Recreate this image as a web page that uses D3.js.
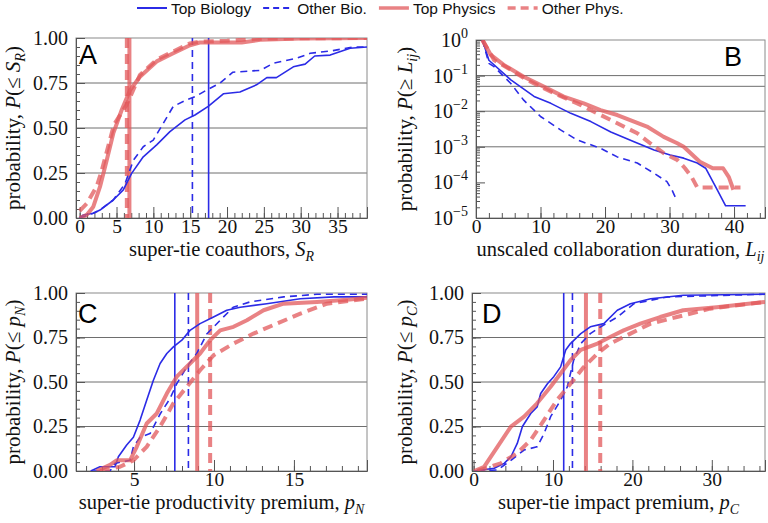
<!DOCTYPE html>
<html>
<head>
<meta charset="utf-8">
<script src="https://cdn.jsdelivr.net/npm/d3@7"></script>
<style>
  body { margin: 0; background: #fff; }
</style>
</head>
<body>
<svg id="chart" width="768" height="523"></svg>
<script>
// series order used everywhere below
const seriesNames = ["Top Biology", "Other Bio.", "Top Physics", "Other Phys."];

// Panel A: CDF of super-tie coauthors S_R
const aTopBio = [[0,0],[0.5,0.017],[1.85,0.026],[2.76,0.044],[4.56,0.1],[5.92,0.156],[7.05,0.248],[8.63,0.34],[10.45,0.406],[12.25,0.48],[14.3,0.545],[15.65,0.572],[17.45,0.62],[19.5,0.69],[21.75,0.7],[24,0.74],[25.4,0.78],[26.7,0.78],[29,0.84],[30.6,0.855],[31.9,0.9],[34,0.905],[36.7,0.943],[39,0.95]];
const aOtherBio = [[0,0],[1.85,0.026],[2.76,0.045],[4.56,0.1],[6.15,0.19],[7.28,0.32],[8.63,0.396],[9.99,0.433],[11.35,0.526],[12.7,0.62],[14.5,0.656],[15.65,0.674],[17.2,0.71],[19,0.748],[20.8,0.81],[24.5,0.82],[26.3,0.86],[29.4,0.887],[31.3,0.915],[34.4,0.93],[37.1,0.95],[39,0.95]];
const aTopPhys = [[0,0],[0.95,0.017],[1.85,0.063],[2.76,0.174],[3.66,0.32],[4.56,0.47],[5.7,0.6],[6.83,0.71],[8.18,0.785],[10.45,0.87],[12.7,0.915],[14.97,0.96],[16.3,0.975],[22,0.975],[24.5,0.99],[30,0.997],[39,1]];
const aOtherPhys = [[0,0.04],[0.95,0.08],[2.3,0.174],[2.9,0.25],[4.67,0.52],[6.38,0.63],[8.18,0.795],[10.45,0.88],[12.7,0.925],[14.97,0.97],[16.3,0.98],[20,0.985],[25,0.997],[39,1]];
const aMedians = [17.5, 15.3, 6.75, 6.4];

// Panel B: complementary CDF of collaboration duration L_ij (log y)
const bTopBio = [[1,1],[2,0.27],[5.4,0.076],[9,0.026],[11.6,0.0166],[14.7,0.0087],[17.8,0.0051],[20.9,0.0026],[24.5,0.00138],[27.6,0.00081],[30.1,0.00059],[32.2,0.00048],[34.3,0.00035],[35.6,0.00025],[37.4,0.000062],[38.7,0.000022],[41.8,0.000022]];
const bOtherBio = [[1,1],[2,0.22],[2.8,0.178],[5.4,0.06],[7.4,0.0204],[10,0.0071],[13.1,0.003],[15.7,0.00155],[19.3,0.00091],[21.9,0.00052],[25,0.00035],[27.6,0.00018],[29.6,0.000105],[30.4,0.00006],[31.1,0.000032]];
const bTopPhys = [[1,1],[2.3,0.38],[4.3,0.2],[7.4,0.093],[10.5,0.049],[13.6,0.0257],[16.7,0.0166],[19.3,0.0107],[21.9,0.0078],[24.5,0.0051],[26.5,0.0037],[29.1,0.0019],[31.2,0.00126],[32.2,0.001],[34.7,0.00038],[36.7,0.00025],[38.3,0.00025],[39.2,0.00014],[39.9,0.000062]];
const bOtherPhys = [[1,1],[2.8,0.275],[5.4,0.145],[7.9,0.076],[10.5,0.044],[12.6,0.029],[15.7,0.0166],[18.8,0.0087],[21.9,0.0046],[25,0.0024],[27,0.00126],[29.1,0.00066],[31.2,0.00043],[32.4,0.00025],[33.4,0.000145],[34.3,0.000072],[41,0.000072]];

// Panel C: CDF of productivity premium p_N
const cTopBio = [[2.29,0],[2.87,0.024],[3.81,0.024],[4.02,0.08],[4.54,0.146],[4.96,0.19],[5.38,0.286],[5.79,0.398],[6.21,0.51],[6.63,0.604],[7.05,0.66],[7.46,0.697],[7.99,0.735],[8.5,0.79],[9.13,0.828],[9.97,0.865],[10.8,0.903],[11.64,0.92],[13.3,0.94],[15.4,0.968],[17.5,0.978],[19.57,0.978]];
const cOtherBio = [[2.45,0],[3.5,0],[3.8,0.043],[4.75,0.06],[4.96,0.136],[5.38,0.19],[6,0.21],[6.63,0.32],[7.25,0.407],[7.67,0.49],[8.3,0.585],[8.92,0.66],[9.55,0.77],[10.39,0.847],[11.2,0.92],[12.26,0.95],[14.35,0.978],[16.44,0.993],[19.57,0.993]];
const cTopPhys = [[2.66,0],[3.5,0.034],[3.91,0.06],[4.75,0.06],[5.17,0.136],[5.79,0.267],[6.42,0.323],[7.05,0.435],[7.67,0.53],[8.5,0.604],[9.13,0.66],[9.76,0.735],[10.39,0.79],[11.22,0.81],[12.06,0.847],[13.1,0.903],[14.35,0.94],[16.44,0.95],[18.5,0.963],[19.57,0.974]];
const cOtherPhys = [[2.87,0],[4.12,0.024],[4.96,0.06],[5.79,0.136],[6.63,0.249],[7.46,0.38],[8.3,0.473],[9.13,0.566],[9.97,0.65],[11.22,0.716],[12.47,0.772],[13.93,0.828],[15.4,0.884],[17.07,0.94],[19.57,0.968]];
const cMedians = [7.55, 8.4, 8.95, 9.76];

// Panel D: CDF of impact premium p_C
const dTopBio = [[0.08,0],[2.6,0.015],[3.85,0.043],[4.7,0.08],[5.5,0.155],[6.15,0.25],[7.2,0.323],[8,0.36],[8.45,0.435],[9.3,0.49],[10.1,0.53],[10.96,0.585],[11.6,0.68],[12.2,0.716],[13.5,0.772],[14.7,0.81],[16.4,0.828],[18.1,0.903],[19.75,0.94],[22.3,0.968],[26.4,0.987],[36.7,0.993]];
const dOtherBio = [[0.5,0],[3,0.006],[4.7,0.06],[6.36,0.118],[8,0.136],[8.87,0.21],[9.7,0.305],[10.96,0.398],[11.8,0.473],[12.6,0.622],[13.5,0.716],[14.7,0.772],[16,0.81],[18.1,0.865],[20.2,0.94],[24.4,0.978],[36.7,0.993]];
const dTopPhys = [[0.08,0],[1.34,0.024],[3,0.136],[4.7,0.249],[6.36,0.305],[8,0.38],[9.7,0.473],[10.96,0.548],[12.2,0.622],[13.5,0.68],[15.6,0.716],[17.2,0.753],[18.9,0.79],[21,0.828],[23.5,0.865],[26.4,0.903],[30.6,0.92],[36.7,0.95]];
const dOtherPhys = [[0.5,0],[3.4,0.043],[5.5,0.1],[7.2,0.174],[8.87,0.286],[10.5,0.398],[12.2,0.49],[13.9,0.585],[15.6,0.66],[17.2,0.716],[19.75,0.772],[22.3,0.828],[25.6,0.865],[29.8,0.912],[36.7,0.95]];
const dMedians = [11.35, 12.45, 14.15, 15.95];

// tick labels
const probTicks = [0, 0.25, 0.5, 0.75, 1];
const logTicks = [1, 0.1, 0.01, 0.001, 0.0001, 0.00001];
const logTickExp = ["0", "\u22121", "\u22122", "\u22123", "\u22124", "\u22125"];

// ---------------------------------------------------------------
const styles = [
  { color: "#2b2be6", width: 1.6, dash: null, opacity: 1 },
  { color: "#2b2be6", width: 1.6, dash: "7,5", opacity: 1 },
  { color: "#e2585b", width: 4, dash: null, opacity: 0.75 },
  { color: "#e2585b", width: 4, dash: "10,6", opacity: 0.75 }
];
const serif = "'Liberation Serif', 'Times New Roman', serif";
const sans = "'Liberation Sans', Arial, sans-serif";

const svg = d3.select("#chart");

// rich text helper: parts = [text, italic?, sub?]
function richText(sel, parts, size) {
  parts.forEach(([t, it, sub], i) => {
    const prevSub = i > 0 && parts[i - 1][2];
    const ts = sel.append("tspan").text(t);
    if (it) ts.attr("font-style", "italic");
    if (sub) ts.attr("font-size", size * 0.68).attr("dy", prevSub ? 0 : size * 0.25);
    else if (prevSub) ts.attr("dy", -size * 0.25);
  });
}

let clipId = 0;
function drawPanel(o) {
  const g = svg.append("g");
  const x = d3.scaleLinear().domain(o.xDomain).range([o.left, o.right]);
  const y = o.log
    ? d3.scaleLog().domain([1e-5, 1]).range([o.bottom, o.top])
    : d3.scaleLinear().domain([0, 1]).range([o.bottom, o.top]);

  const id = "clip" + (clipId++);
  svg.append("clipPath").attr("id", id).append("rect")
    .attr("x", o.left).attr("y", o.top)
    .attr("width", o.right - o.left).attr("height", o.bottom - o.top);

  // grid lines
  g.selectAll("line.grid").data(o.grid).join("line")
    .attr("class", "grid")
    .attr("x1", o.left).attr("x2", o.right)
    .attr("y1", d => y(d)).attr("y2", d => y(d))
    .attr("stroke", "#6e6e6e").attr("stroke-width", 1);

  // frame
  g.append("rect")
    .attr("x", o.left).attr("y", o.top)
    .attr("width", o.right - o.left).attr("height", o.bottom - o.top)
    .attr("fill", "none").attr("stroke", "#8a8a8a");

  // x axis: minor + major ticks pointing inward
  const xMinor = d3.range(o.xMinor[0], o.xDomain[1] + 1e-9, o.xMinor[1]);
  g.append("g").attr("transform", `translate(0,${o.bottom})`)
    .call(d3.axisBottom(x).tickValues(xMinor).tickSize(-5).tickFormat(""))
    .call(a => a.select(".domain").remove());
  g.append("g").attr("transform", `translate(0,${o.bottom})`)
    .call(d3.axisBottom(x).tickValues(o.xTicks).tickSize(-11).tickPadding(1))
    .call(a => a.select(".domain").attr("stroke", "#555"))
    .call(a => a.selectAll("text").attr("font-family", serif).attr("font-size", 19.5).attr("fill", "#111"));

  // y axis
  if (o.log) {
    const minor = [];
    for (let e = -5; e < 0; e++) for (let m = 2; m <= 9; m++) minor.push(m * Math.pow(10, e));
    g.append("g").attr("transform", `translate(${o.left},0)`)
      .call(d3.axisLeft(y).tickValues(minor).tickSize(-4).tickFormat(""))
      .call(a => a.select(".domain").remove());
    g.append("g").attr("transform", `translate(${o.left},0)`)
      .call(d3.axisLeft(y).tickValues(logTicks).tickSize(-9).tickFormat(""))
      .call(a => a.select(".domain").attr("stroke", "#555"));
    logTicks.forEach((v, i) => {
      const t = g.append("text")
        .attr("x", o.left - 8).attr("y", y(v) + 7)
        .attr("text-anchor", "end")
        .attr("font-family", serif).attr("font-size", 20).attr("fill", "#111");
      t.append("tspan").text("10");
      t.append("tspan").text(logTickExp[i]).attr("font-size", 14).attr("dy", -9);
    });
  } else {
    g.append("g").attr("transform", `translate(${o.left},0)`)
      .call(d3.axisLeft(y).tickValues(d3.range(0, 1.0001, 0.05)).tickSize(-4).tickFormat(""))
      .call(a => a.select(".domain").remove());
    g.append("g").attr("transform", `translate(${o.left},0)`)
      .call(d3.axisLeft(y).tickValues(probTicks).tickSize(-9).tickPadding(8).tickFormat(d3.format(".2f")))
      .call(a => a.select(".domain").attr("stroke", "#555"))
      .call(a => a.selectAll("text").attr("font-family", serif).attr("font-size", 20).attr("fill", "#111"));
  }
  g.selectAll(".tick line").attr("stroke", "#555");

  const plot = g.append("g").attr("clip-path", `url(#${id})`);

  // median lines
  if (o.medians) {
    o.medians.forEach((m, i) => {
      const s = styles[i];
      plot.append("line")
        .attr("x1", x(m)).attr("x2", x(m)).attr("y1", o.top).attr("y2", o.bottom)
        .attr("stroke", s.color).attr("stroke-width", s.width)
        .attr("stroke-dasharray", s.dash).attr("stroke-opacity", s.opacity);
    });
  }

  // curves
  const line = d3.line().x(d => x(d[0])).y(d => y(d[1]));
  o.series.forEach((data, i) => {
    const s = styles[i];
    plot.append("path").datum(data)
      .attr("d", line)
      .attr("fill", "none")
      .attr("stroke", s.color).attr("stroke-width", s.width)
      .attr("stroke-dasharray", s.dash).attr("stroke-opacity", s.opacity)
      .attr("stroke-linejoin", "round");
  });

  // panel letter
  g.append("text").attr("x", o.letterPos[0]).attr("y", o.letterPos[1])
    .attr("font-family", sans).attr("font-size", 27).attr("fill", "#000")
    .text(o.letter);

  // x label
  const xl = g.append("text")
    .attr("x", (o.left + o.right) / 2).attr("y", o.bottom + 38)
    .attr("text-anchor", "middle")
    .attr("font-family", serif).attr("font-size", 20.5).attr("fill", "#111");
  richText(xl, o.xLabel, 20.5);

  // y label
  const cy = (o.top + o.bottom) / 2;
  const yl = g.append("text")
    .attr("transform", `translate(${o.yLabelX},${cy}) rotate(-90)`)
    .attr("text-anchor", "middle")
    .attr("font-family", serif).attr("font-size", 21).attr("fill", "#111");
  richText(yl, o.yLabel, 21);
}

drawPanel({
  left: 76, right: 367, top: 38, bottom: 218,
  xDomain: [-0.5, 39], xTicks: d3.range(0, 36, 5), xMinor: [0, 1],
  grid: [0.25, 0.5, 0.75],
  series: [aTopBio, aOtherBio, aTopPhys, aOtherPhys], medians: aMedians,
  letter: "A", letterPos: [79, 64],
  xLabel: [["super-tie coauthors, "], ["S", true], ["R", true, true]],
  yLabel: [["probability, "], ["P", true], ["(\u2264 "], ["S", true], ["R", true, true], [")"]],
  yLabelX: 20
});

drawPanel({
  left: 476, right: 765, top: 40, bottom: 218, log: true,
  xDomain: [0, 44.8], xTicks: d3.range(0, 41, 10), xMinor: [0, 2],
  grid: [0.1, 0.05, 0.01, 0.001],
  series: [bTopBio, bOtherBio, bTopPhys, bOtherPhys],
  letter: "B", letterPos: [724, 66],
  xLabel: [["unscaled collaboration duration, "], ["L", true], ["ij", true, true]],
  yLabel: [["probability, "], ["P", true], ["(\u2265 "], ["L", true], ["ij", true, true], [")"]],
  yLabelX: 412
});

drawPanel({
  left: 76, right: 367, top: 293, bottom: 471,
  xDomain: [1.37, 19.57], xTicks: [5, 10, 15], xMinor: [2, 1],
  grid: [0.25, 0.5, 0.75],
  series: [cTopBio, cOtherBio, cTopPhys, cOtherPhys], medians: cMedians,
  letter: "C", letterPos: [78, 323],
  xLabel: [["super-tie productivity premium, "], ["p", true], ["N", true, true]],
  yLabel: [["probability, "], ["P", true], ["(\u2264 "], ["p", true], ["N", true, true], [")"]],
  yLabelX: 20
});

drawPanel({
  left: 472, right: 765, top: 293, bottom: 471,
  xDomain: [-0.2, 36.7], xTicks: [0, 10, 20, 30], xMinor: [0, 2],
  grid: [0.25, 0.5, 0.75],
  series: [dTopBio, dOtherBio, dTopPhys, dOtherPhys], medians: dMedians,
  letter: "D", letterPos: [482, 323],
  xLabel: [["super-tie impact premium, "], ["p", true], ["C", true, true]],
  yLabel: [["probability, "], ["P", true], ["(\u2264 "], ["p", true], ["C", true, true], [")"]],
  yLabelX: 412
});

// legend across the top
let lx = 137;
seriesNames.forEach((name, i) => {
  const s = styles[i];
  svg.append("line")
    .attr("x1", lx).attr("x2", lx + 30).attr("y1", 8).attr("y2", 8)
    .attr("stroke", s.color).attr("stroke-width", i < 2 ? 2 : 3.5)
    .attr("stroke-dasharray", s.dash ? (i < 2 ? "6,4" : "8,5") : null)
    .attr("stroke-opacity", s.opacity);
  const t = svg.append("text")
    .attr("x", lx + 34).attr("y", 14)
    .attr("font-family", sans).attr("font-size", 15.5).attr("fill", "#111")
    .text(name);
  lx += 34 + t.node().getComputedTextLength() + 12;
});
</script>
</body>
</html>
